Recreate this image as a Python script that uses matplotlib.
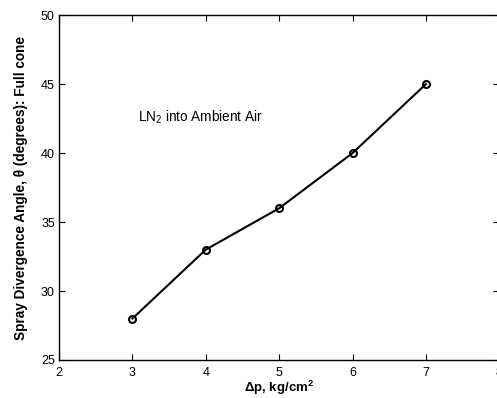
import matplotlib
matplotlib.use("Agg")
import matplotlib.pyplot as plt

# --- Data ---
dp = [3, 4, 5, 6, 7]
angle = [28, 33, 36, 40, 45]
x_ticks = [2, 3, 4, 5, 6, 7, 8]
y_ticks = [25, 30, 35, 40, 45, 50]

plt.rcParams['font.family'] = ['Liberation Sans', 'DejaVu Sans']
plt.rcParams['mathtext.fontset'] = 'custom'
plt.rcParams['mathtext.rm'] = 'Liberation Sans'
plt.rcParams['mathtext.bf'] = 'Liberation Sans:bold'

fig = plt.figure(figsize=(4.97, 3.98), dpi=100)
ax = fig.add_axes([0.1187, 0.0955, 0.886, 0.8665])

ax.plot(dp, angle, '-o', color='black', lw=1.5, markersize=5,
        markerfacecolor='none', markeredgewidth=1.5)

ax.set_xlim(2, 8)
ax.set_ylim(25, 50)
ax.set_xticks(x_ticks)
ax.set_yticks(y_ticks)
ax.tick_params(direction='in', top=True, right=True, labelsize=9, length=4, width=0.8)
ax.tick_params(axis='x', pad=5)
ax.tick_params(axis='y', pad=3)
for s in ax.spines.values():
    s.set_linewidth(1.0)

ax.text(3.08, 42.6, "LN$_\\mathrm{2}$ into Ambient Air", fontsize=9.8, va='center')

ax.set_xlabel("Δp, kg/cm$^\\mathbf{2}$", fontsize=9.5, fontweight='bold', labelpad=0)
ax.set_ylabel("Spray Divergence Angle, θ (degrees): Full cone",
              fontsize=9.8, fontweight='bold', labelpad=9)

fig.savefig("out.png", dpi=100)
